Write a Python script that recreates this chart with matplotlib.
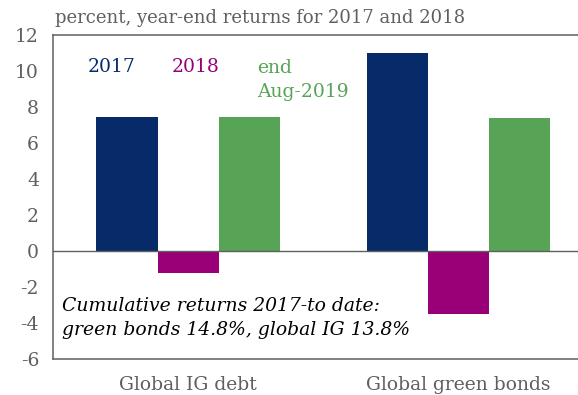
import matplotlib.pyplot as plt
import numpy as np

categories = ["Global IG debt", "Global green bonds"]
series_names = ["2017", "2018", "end\nAug-2019"]
ret_2017 = [7.43, 11.02]
ret_2018 = [-1.24, -3.5]
ret_aug2019 = [7.46, 7.37]
yticks = [-6, -4, -2, 0, 2, 4, 6, 8, 10, 12]

colors = ["#072b69", "#990078", "#57a457"]
grey = "#5f5f5f"
plt.rcParams["font.family"] = ["DejaVu Serif"]

fig = plt.figure(figsize=(5.78, 3.95), dpi=100)
ax = fig.add_axes([53 / 578, 36 / 395, 1 - 53 / 578, 324 / 395])

x = np.arange(len(categories))
w = 0.226
for i, vals in enumerate([ret_2017, ret_2018, ret_aug2019]):
    ax.bar(x + (i - 1) * w, vals, w, color=colors[i], zorder=2)

ax.axhline(0, color=grey, lw=1, zorder=3)
ax.set_xlim(-0.5, 1.444)
ax.set_ylim(-6, 12)
ax.set_yticks(yticks)
ax.set_yticklabels([str(t) for t in yticks], color=grey, fontsize=13.5)
ax.set_xticks(x)
ax.set_xticklabels(categories, color=grey, fontsize=13.5)
ax.tick_params(length=0, axis="y", pad=10)
ax.tick_params(length=0, axis="x", pad=12)
ax.spines["right"].set_visible(False)
for s in ["left", "bottom", "top"]:
    ax.spines[s].set_color(grey)
    ax.spines[s].set_linewidth(1.1)

# series labels drawn inside the plot instead of a legend box
ax.text(0.067, 0.901, series_names[0], transform=ax.transAxes, color=colors[0], fontsize=13.5, va="center")
ax.text(0.227, 0.901, series_names[1], transform=ax.transAxes, color=colors[1], fontsize=13.5, va="center")
ax.text(0.389, 0.862, series_names[2], transform=ax.transAxes, color=colors[2], fontsize=13.5, va="center",
        linespacing=1.45)

ax.text(0.017, 0.126, "Cumulative returns 2017-to date:\ngreen bonds 14.8%, global IG 13.8%",
        transform=ax.transAxes, fontsize=13.5, style="italic", color="black", va="center", linespacing=1.4)

fig.text(55 / 578, 1 - 18 / 395, "percent, year-end returns for 2017 and 2018", color=grey, fontsize=13,
         va="center")

fig.savefig("out.png")
